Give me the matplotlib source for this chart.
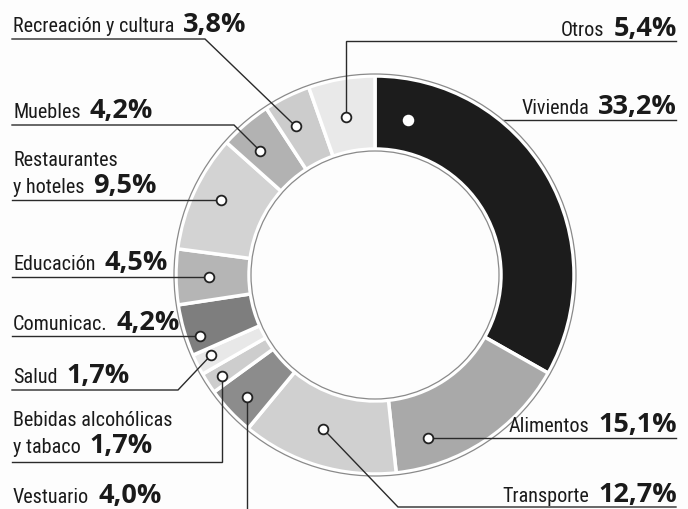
import matplotlib
matplotlib.use("Agg")
import numpy as np
import matplotlib.pyplot as plt
from matplotlib import font_manager
from matplotlib.patches import Circle

# datos (sentido horario desde las 12)
categorias = ["Vivienda", "Alimentos", "Transporte", "Vestuario",
              "Bebidas alcohólicas\ny tabaco", "Salud", "Comunicac.", "Educación",
              "Restaurantes\ny hoteles", "Muebles", "Recreación y cultura", "Otros"]
porcentajes = [33.2, 15.1, 12.7, 4.0, 1.7, 1.7, 4.2, 4.5, 9.5, 4.2, 3.8, 5.4]
colores = ["#1c1c1c", "#a9a9a9", "#d0d0d0", "#8c8c8c", "#cdcdcd", "#e8e8e8",
           "#7e7e7e", "#b5b5b5", "#d3d3d3", "#b2b2b2", "#cccccc", "#e9e9e9"]

# disposicion: lado, linea base del texto, guia ("d" = coord. del punto),
# posicion angular del punto en la cuna, posicion radial en el anillo
etiquetas = {
    "Vivienda": ("R", 114, [(676, "d")], 0.10, 0.44),
    "Alimentos": ("R", 432, [(676, "d")], 0.78, 0.62),
    "Transporte": ("R", 502, [(676, 508), (398, 508)], 0.54, 0.50),
    "Vestuario": ("L", 503, [("d", 512)], 0.47, 0.70),
    "Bebidas alcohólicas\ny tabaco": ("L", 453, [(12, 463), ("d", 463)], 0.43, 0.78),
    "Salud": ("L", 383, [(12, 391), (178, 391)], 0.62, 0.78),
    "Comunicac.": ("L", 330, [(12, "d")], 0.30, 0.82),
    "Educación": ("L", 270, [(12, "d")], 0.49, 0.55),
    "Restaurantes\ny hoteles": ("L", 193, [(12, "d")], 0.54, 0.62),
    "Muebles": ("L", 118, [(12, 126), (234, 126)], 0.36, 0.59),
    "Recreación y cultura": ("L", 32, [(12, 40), (205, 40)], 0.37, 0.58),
    "Otros": ("R", 36, [(676, 42), ("d", 42)], 0.46, 0.48),
}

# fuente estrecha para los nombres si existe alguna
preferidas = ["LiberationSansNarrow-Regular", "RobotoCondensed-Regular",
              "OpenSans_Condensed-Regular", "DejaVuSansCondensed.ttf"]
archivos = [f.fname for f in font_manager.fontManager.ttflist]
ruta = None
for p in preferidas:
    for a in archivos:
        if p in a:
            ruta = a
            break
    if ruta:
        break
tam = 14.5
fp_nombre = font_manager.FontProperties(fname=ruta, size=tam) if ruta else \
    font_manager.FontProperties(family="Roboto", weight="medium", size=tam - 1.5)
fp_num = font_manager.FontProperties(family=["Open Sans", "DejaVu Sans"], weight="bold", size=19.5)
tinta = "#1a1a1a"

fig = plt.figure(figsize=(6.88, 5.10), dpi=100, facecolor="#fdfdfd")
ax = fig.add_axes([0, 0, 1, 1])
ax.set_facecolor("#fdfdfd")

cx, cy = 375, 276
R, ancho = 199, 73
wedges, _ = ax.pie(porcentajes, colors=colores, radius=R, center=(cx, cy),
                   startangle=-90, counterclock=True, frame=True,
                   wedgeprops=dict(width=ancho, edgecolor="white", linewidth=2.5, zorder=3))
ax.add_patch(Circle((cx, cy), R + 2, fill=False, edgecolor="#8a8a8a", lw=0.9, zorder=4))
ax.add_patch(Circle((cx, cy), R - ancho - 2, fill=False, edgecolor="#8a8a8a", lw=0.9, zorder=4))

ax.set_xlim(0, 688)
ax.set_ylim(510, 0)
ax.set_aspect("equal")
ax.axis("off")

fig.canvas.draw()
renderer = fig.canvas.get_renderer()
inv = ax.transData.inverted()


def ancho_texto(t):
    bb = t.get_window_extent(renderer)
    (x0, _), (x1, _) = inv.transform([(bb.x0, bb.y0), (bb.x1, bb.y0)])
    return x1 - x0


for w, cat, val in zip(wedges, categorias, porcentajes):
    lado, yb, guia, frac, rr = etiquetas[cat]
    ang = np.deg2rad(w.theta1 + frac * (w.theta2 - w.theta1))
    r = R - ancho + rr * ancho
    px, py = cx + r * np.cos(ang), cy + r * np.sin(ang)

    # guia
    pts = [(px if x == "d" else x, py if y == "d" else y) for x, y in guia] + [(px, py)]
    xs, ys = zip(*pts)
    detras = cat == "Vivienda"
    ax.plot(xs, ys, color="#2a2a2a", lw=1.0, zorder=2 if detras else 5,
            solid_joinstyle="miter")
    ax.plot(px, py, "o", ms=7, mfc="white", mec="white" if detras else "#222222",
            mew=1.3, zorder=6)

    lineas = cat.split("\n")
    num = f"{val:.1f}%".replace(".", ",")
    if lado == "L":
        for k, linea in enumerate(lineas):
            y = yb - (len(lineas) - 1 - k) * 27
            t = ax.text(13, y, linea, fontproperties=fp_nombre, color=tinta,
                        ha="left", va="baseline", zorder=7)
        ax.text(13 + ancho_texto(t) + 9, yb, num, fontproperties=fp_num, color=tinta,
                ha="left", va="baseline", zorder=7)
    else:
        tn = ax.text(677, yb, num, fontproperties=fp_num, color=tinta,
                     ha="right", va="baseline", zorder=7)
        ax.text(677 - ancho_texto(tn) - 9, yb, lineas[-1], fontproperties=fp_nombre,
                color=tinta, ha="right", va="baseline", zorder=7)

fig.savefig("out.png", dpi=100, facecolor=fig.get_facecolor())
